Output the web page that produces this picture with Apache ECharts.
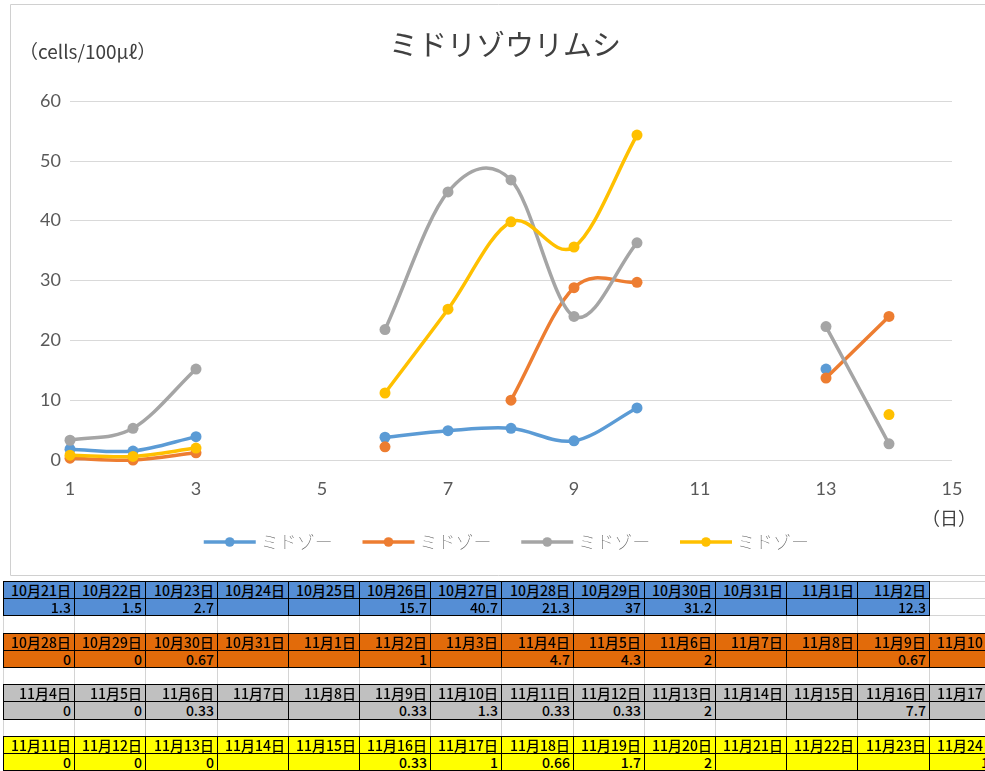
<!DOCTYPE html>
<html>
<head>
<meta charset="utf-8">
<script src="https://cdn.jsdelivr.net/npm/echarts@6/dist/echarts.min.js"></script>
<style>
html,body{margin:0;padding:0;background:#fff;width:985px;height:771px;overflow:hidden;}
#chart{position:absolute;left:0;top:0;width:985px;height:578px;}
#sheet{position:absolute;left:0;top:0;width:985px;height:771px;pointer-events:none;}
.cell{position:absolute;box-sizing:border-box;font-family:"Noto Sans CJK JP",sans-serif;font-size:14px;font-weight:500;line-height:16px;text-align:right;padding-right:3px;color:#000;white-space:nowrap;overflow:hidden;}
.gl{position:absolute;background:#d4d4d4;}
</style>
</head>
<body>
<div id="chart"></div>
<div id="sheet"></div>
<script>
// ---- chart data ----
const days = [1,2,3,4,5,6,7,8,9,10,11,12,13,14];
const seriesNames = ['ミドゾー','ミドゾー','ミドゾー','ミドゾー'];
const blueVals   = [1.8,1.5,3.9,null,null,3.8,4.9,5.3,3.2,8.7,null,null,15.2,null];
const orangeVals = [0.3,0.0,1.2,null,null,2.2,null,10.0,28.8,29.7,null,null,13.7,24.0];
const grayVals   = [3.3,5.3,15.2,null,null,21.8,44.8,46.8,24.0,36.3,null,null,22.3,2.7];
const yellowVals = [0.8,0.6,2.0,null,null,11.2,25.2,39.8,35.6,54.3,null,null,null,7.6];
const colors = ['#5B9BD5','#ED7D31','#A5A5A5','#FFC000'];

// ---- sheet data ----
const blueDates   = ['10月21日','10月22日','10月23日','10月24日','10月25日','10月26日','10月27日','10月28日','10月29日','10月30日','10月31日','11月1日','11月2日'];
const blueNums    = ['1.3','1.5','2.7','','','15.7','40.7','21.3','37','31.2','','','12.3'];
const orangeDates = ['10月28日','10月29日','10月30日','10月31日','11月1日','11月2日','11月3日','11月4日','11月5日','11月6日','11月7日','11月8日','11月9日','11月10日'];
const orangeNums  = ['0','0','0.67','','','1','','4.7','4.3','2','','','0.67',''];
const grayDates   = ['11月4日','11月5日','11月6日','11月7日','11月8日','11月9日','11月10日','11月11日','11月12日','11月13日','11月14日','11月15日','11月16日','11月17日'];
const grayNums    = ['0','0','0.33','','','0.33','1.3','0.33','0.33','2','','','7.7','8'];
const yellowDates = ['11月11日','11月12日','11月13日','11月14日','11月15日','11月16日','11月17日','11月18日','11月19日','11月20日','11月21日','11月22日','11月23日','11月24日'];
const yellowNums  = ['0','0','0','','','0.33','1','0.66','1.7','2','','','','11'];
const sheetColors = ['#558ED5','#E26B0A','#C0C0C0','#FFFF00'];

const allVals = [blueVals, orangeVals, grayVals, yellowVals];
const ids = ['s1','s2','s3','s4'];
const chart = echarts.init(document.getElementById('chart'));

function ok(v){return v!==null && v!==undefined;}
// Excel-like smooth curve: Catmull-Rom segments drawn as cubic beziers in pixel space
function curveSeries(vals, color, z){
  const starts = [];
  for(let j=0;j<vals.length-1;j++){ if(ok(vals[j]) && ok(vals[j+1])) starts.push(j); }
  return {
    type:'custom', silent:true, z:z,
    data: starts.map(j=>[days[j], vals[j], days[j+1], vals[j+1]]),
    encode:{x:[0,2], y:[1,3]},
    renderItem:function(params, api){
      const j = starts[params.dataIndex];
      const P = k => api.coord([days[k], vals[k]]);
      const p1 = P(j), p2 = P(j+1);
      const p0 = (j>0 && ok(vals[j-1])) ? P(j-1) : [2*p1[0]-p2[0], 2*p1[1]-p2[1]];
      const p3 = (j+2<vals.length && ok(vals[j+2])) ? P(j+2) : [2*p2[0]-p1[0], 2*p2[1]-p1[1]];
      return {
        type:'bezierCurve',
        shape:{x1:p1[0], y1:p1[1], x2:p2[0], y2:p2[1],
          cpx1:p1[0]+(p2[0]-p0[0])/6, cpy1:p1[1]+(p2[1]-p0[1])/6,
          cpx2:p2[0]-(p3[0]-p1[0])/6, cpy2:p2[1]-(p3[1]-p1[1])/6},
        style:{stroke:color, lineWidth:3.5, fill:null, lineCap:'round'}
      };
    }
  };
}

const series = [];
allVals.forEach((vals,i)=>{
  series.push(curveSeries(vals, colors[i], 2+i));
  series.push({
    id:ids[i], name:ids[i], type:'line', connectNulls:false,
    data: days.map((d,j)=>[d, vals[j]]),
    symbol:'circle', symbolSize:11, showAllSymbol:true,
    lineStyle:{color:colors[i], width:0, opacity:0},
    itemStyle:{color:colors[i]},
    z:2+i
  });
});

chart.setOption({
  animation:false,
  title:{text:'ミドリゾウリムシ',left:500,top:25,textAlign:'center',
    textStyle:{fontFamily:'"Noto Sans CJK JP"',fontSize:29,fontWeight:'normal',color:'#404040'}},
  graphic:[
    {type:'rect',shape:{x:10.5,y:4.5,width:990,height:571},style:{fill:'none',stroke:'#d0d0d0',lineWidth:1},z:-10},
    {type:'text',left:19,top:42,style:{text:'（cells/100μℓ）',fontFamily:'"Noto Sans CJK JP"',fontSize:19,fill:'#404040'}},
    {type:'text',left:922,top:509,style:{text:'（日）',fontFamily:'"Noto Sans CJK JP"',fontSize:18,fill:'#404040'}}
  ],
  legend:{left:197,top:528,itemWidth:52,itemHeight:12,itemGap:28,
    data: ids.map((id,i)=>({name:id, lineStyle:{color:colors[i], width:3.5, opacity:1}, itemStyle:{color:colors[i]}})),
    formatter:(n)=>seriesNames[ids.indexOf(n)],
    textStyle:{fontFamily:'"Noto Sans CJK JP"',fontSize:18,color:'#595959',fontWeight:'lighter'}},
  grid:{left:70,top:101,width:882,height:359,containLabel:false},
  xAxis:{type:'value',min:1,max:15,interval:2,
    axisLine:{show:false},axisTick:{show:false},splitLine:{show:false},
    axisLabel:{margin:20,fontFamily:'Lato',fontSize:18,color:'#595959'}},
  yAxis:{type:'value',min:0,max:60,interval:10,
    axisLine:{show:false},axisTick:{show:false},
    splitLine:{lineStyle:{color:'#d9d9d9',width:1}},
    axisLabel:{margin:9,fontFamily:'Lato',fontSize:18,color:'#595959'}},
  series: series
});

// ---- spreadsheet below ----
const sheet = document.getElementById('sheet');
const x0 = 3, cw = 71.2, y0 = 581, rh = 17.2;
function add(html){sheet.insertAdjacentHTML('beforeend',html);}
for(let c=0;c<=14;c++){
  const x = Math.round(x0 + c*cw);
  add(`<div class="gl" style="left:${x}px;top:${y0}px;width:1px;height:${771-y0}px"></div>`);
}
for(let r=0;r<=11;r++){
  const y = Math.round(y0 + r*rh);
  add(`<div class="gl" style="left:${x0}px;top:${y}px;width:${985-x0}px;height:1px"></div>`);
}
const blocks = [[blueDates,blueNums],[orangeDates,orangeNums],[grayDates,grayNums],[yellowDates,yellowNums]];
blocks.forEach((b,bi)=>{
  const [dates,nums] = b;
  for(let row=0;row<2;row++){
    const arr = row===0?dates:nums;
    const top = Math.round(y0 + (bi*3+row)*rh);
    const bot = Math.round(y0 + (bi*3+row+1)*rh);
    arr.forEach((t,c)=>{
      const l = Math.round(x0 + c*cw);
      const r = Math.round(x0 + (c+1)*cw);
      add(`<div class="cell" style="left:${l}px;top:${top}px;width:${r-l+1}px;height:${bot-top+1}px;background:${sheetColors[bi]};border:1px solid #000;">${t}</div>`);
    });
  }
});
</script>
</body>
</html>
